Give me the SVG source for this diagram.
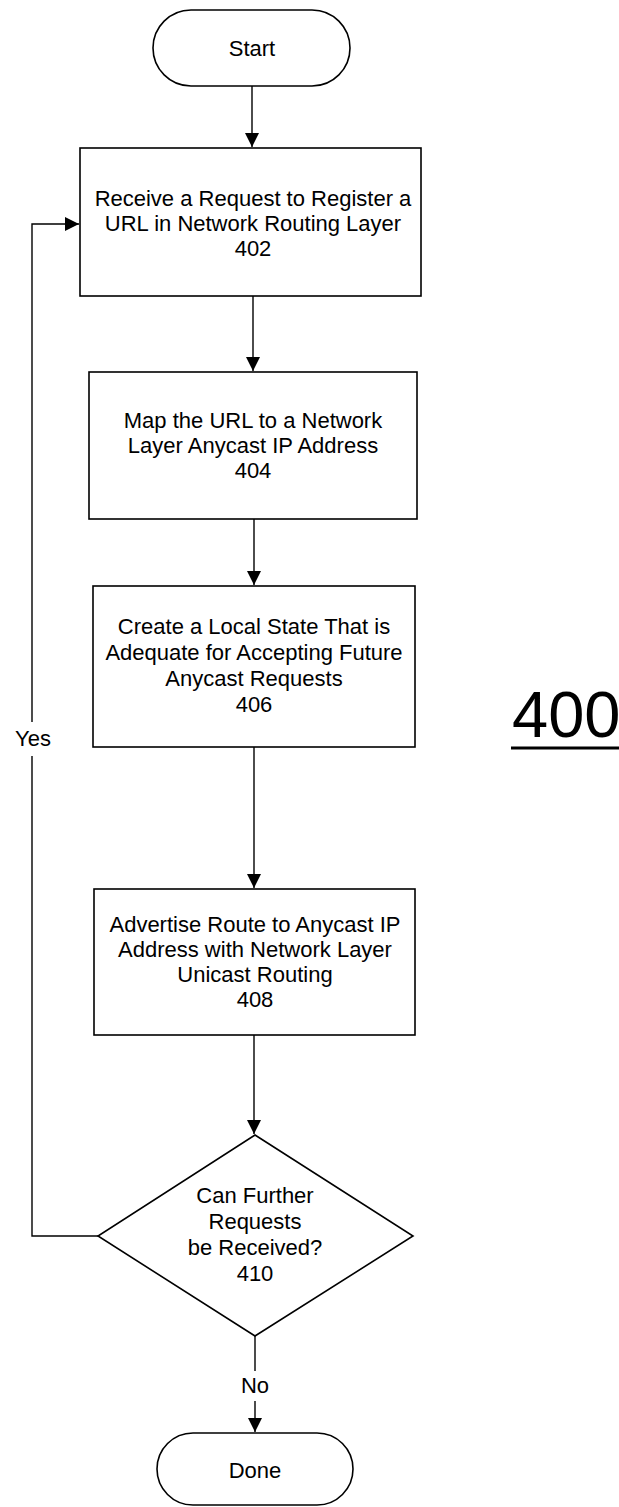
<svg xmlns="http://www.w3.org/2000/svg" width="619" height="1507" viewBox="0 0 619 1507">
<style>
.s{fill:#fff;stroke:#000;stroke-width:1.6}
.t{font-family:"Liberation Sans",Arial,sans-serif;font-size:22px;fill:#000;text-anchor:middle}
.c{fill:none;stroke:#000;stroke-width:1.4}
</style>
<defs>
<marker id="ah" markerUnits="userSpaceOnUse" markerWidth="16" markerHeight="16" refX="14" refY="7" orient="auto">
<path d="M0,0 L14,7 L0,14 z" fill="#000"/>
</marker>
</defs>
<rect width="619" height="1507" fill="#fff"/>
<g id="connectors">
<path class="c" d="M252,86 V147" marker-end="url(#ah)"/>
<path class="c" d="M253,296 V371" marker-end="url(#ah)"/>
<path class="c" d="M254,519 V585" marker-end="url(#ah)"/>
<path class="c" d="M254,747 V888" marker-end="url(#ah)"/>
<path class="c" d="M254,1035 V1134" marker-end="url(#ah)"/>
<path class="c" d="M255,1336 V1371 M255,1401 V1432" marker-end="url(#ah)"/>
<path class="c" d="M98,1236 H32 V756 M32,722 V224 H79" marker-end="url(#ah)"/>
<text class="t" x="33" y="746">Yes</text>
<text class="t" x="255" y="1393">No</text>
</g>
<g id="start">
<rect class="s" x="153" y="10" width="197" height="76" rx="38" ry="38"/>
<text class="t" x="252" y="56">Start</text>
</g>
<g id="n402">
<rect class="s" x="80" y="148" width="341" height="148"/>
<text class="t" x="253" y="206">Receive a Request to Register a</text>
<text class="t" x="253" y="231">URL in Network Routing Layer</text>
<text class="t" x="253" y="256">402</text>
</g>
<g id="n404">
<rect class="s" x="89" y="372" width="328" height="147"/>
<text class="t" x="253" y="428">Map the URL to a Network</text>
<text class="t" x="253" y="453">Layer Anycast IP Address</text>
<text class="t" x="253" y="478">404</text>
</g>
<g id="n406">
<rect class="s" x="93" y="586" width="322" height="161"/>
<text class="t" x="254" y="634">Create a Local State That is</text>
<text class="t" x="254" y="660">Adequate for Accepting Future</text>
<text class="t" x="254" y="686">Anycast Requests</text>
<text class="t" x="254" y="712">406</text>
</g>
<g id="n408">
<rect class="s" x="94" y="889" width="321" height="146"/>
<text class="t" x="255" y="932">Advertise Route to Anycast IP</text>
<text class="t" x="255" y="957">Address with Network Layer</text>
<text class="t" x="255" y="982">Unicast Routing</text>
<text class="t" x="255" y="1007">408</text>
</g>
<g id="n410">
<path class="s" d="M255,1135 L413,1236 L255,1336 L98,1236 Z"/>
<text class="t" x="255" y="1203">Can Further</text>
<text class="t" x="255" y="1229">Requests</text>
<text class="t" x="255" y="1255">be Received?</text>
<text class="t" x="255" y="1281">410</text>
</g>
<g id="done">
<rect class="s" x="157" y="1433" width="196" height="72" rx="36" ry="36"/>
<text class="t" x="255" y="1478">Done</text>
</g>
<g id="label400">
<text x="512" y="737" font-family="&quot;Liberation Sans&quot;,Arial,sans-serif" font-size="65" fill="#000">400</text>
<line x1="511" y1="748" x2="619" y2="748" stroke="#000" stroke-width="3"/>
</g>
</svg>
